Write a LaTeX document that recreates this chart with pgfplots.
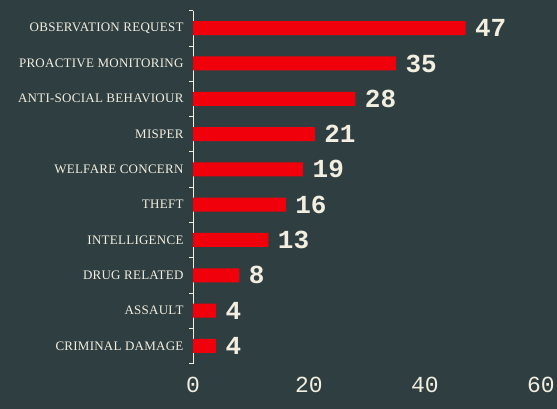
\documentclass[border=0pt]{standalone}
\usepackage{pgfplots}
\pgfplotsset{compat=1.18}
\usepackage{fontspec}
\setmainfont{Liberation Serif}
\newfontfamily\numfont{Liberation Mono}
\newfontfamily\labfont[LetterSpace=2]{Liberation Serif}
\definecolor{bg}{RGB}{47,62,64}
\definecolor{barred}{RGB}{240,0,10}
\definecolor{cream}{RGB}{242,238,224}
\begin{document}
\begin{tikzpicture}[x=1pt,y=1pt]
\fill[bg] (0,0) rectangle (557,409);
\useasboundingbox (0,0) rectangle (557,409);
\begin{axis}[
  at={(193pt,45.5pt)}, anchor=south west,
  scale only axis, width=348pt, height=353pt,
  xbar, bar width=14pt,
  xmin=0, xmax=60,
  ymin=-0.5, ymax=9.5, y dir=reverse,
  axis lines*=left,
  axis line style={-},
  x axis line style={draw=none},
  y axis line style={draw=cream, line width=0.8pt},
  xtick={0,20,40,60},
  xtick style={draw=none},
  /pgf/number format/assume math mode=true,
  xticklabel style={font=\numfont\fontsize{23}{25}\selectfont, text=cream, yshift=-10pt},
  ytick={0,...,9},
  yticklabels={OBSERVATION REQUEST,PROACTIVE MONITORING,ANTI-SOCIAL BEHAVIOUR,MISPER,WELFARE CONCERN,THEFT,INTELLIGENCE,DRUG RELATED,ASSAULT,CRIMINAL DAMAGE},
  yticklabel style={font=\labfont\fontsize{13}{14}\selectfont, text=cream, xshift=-6pt},
  major tick length=0pt,
  minor ytick={-0.5,0.5,...,9.5},
  minor tick length=4pt,
  minor tick style={draw=cream, line width=0.6pt},
  tick align=outside,
  nodes near coords,
  nodes near coords style={font=\numfont\bfseries\fontsize{26}{28}\selectfont, text=cream, anchor=west, xshift=6pt},
  point meta=explicit symbolic,
]
\addplot[fill=barred, draw=none] coordinates {
 (47,0) [47] (35,1) [35] (28,2) [28] (21,3) [21] (19,4) [19]
 (16,5) [16] (13,6) [13] (8,7) [8] (4,8) [4] (4,9) [4]
};
\end{axis}
\end{tikzpicture}
\end{document}
